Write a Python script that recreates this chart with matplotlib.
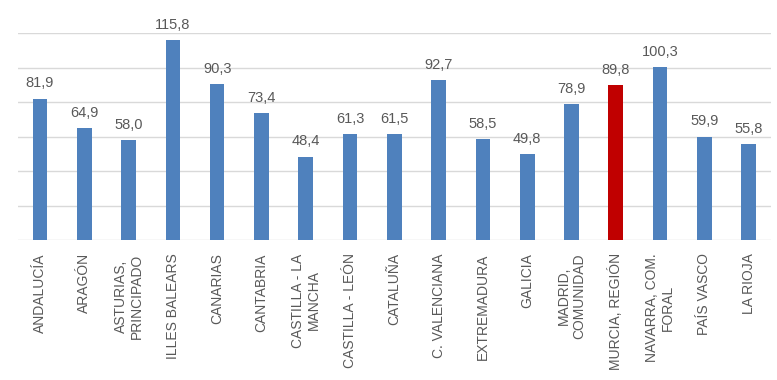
import matplotlib
matplotlib.use("Agg")
from matplotlib import pyplot as plt

regions = ["ANDALUCÍA", "ARAGÓN", "ASTURIAS,\nPRINCIPADO", "ILLES BALEARS",
           "CANARIAS", "CANTABRIA", "CASTILLA - LA\nMANCHA", "CASTILLA - LEÓN",
           "CATALUÑA", "C. VALENCIANA", "EXTREMADURA", "GALICIA",
           "MADRID,\nCOMUNIDAD", "MURCIA, REGIÓN", "NAVARRA, COM.\nFORAL",
           "PAÍS VASCO", "LA RIOJA"]
values = [81.9, 64.9, 58.0, 115.8, 90.3, 73.4, 48.4, 61.3, 61.5, 92.7,
          58.5, 49.8, 78.9, 89.8, 100.3, 59.9, 55.8]
highlight = "MURCIA, REGIÓN"

plt.rcParams['font.family'] = ['Liberation Sans', 'DejaVu Sans']

fig = plt.figure(figsize=(7.77, 3.8), dpi=100)
ax = fig.add_axes([0.023, 0.368, 0.969, 0.545])

x = range(len(values))
colors = ['#C00000' if r == highlight else '#4F81BD' for r in regions]
ax.bar(x, values, width=0.33, color=colors, zorder=3)

for xi, v in zip(x, values):
    ax.annotate(f"{v:.1f}".replace(".", ","), (xi, v), xytext=(0, 6),
                textcoords='offset points', ha='center', va='bottom',
                fontsize=10.5, color='#595959')

ax.set_xlim(-0.5, len(values) - 0.5)
ax.set_ylim(0, 120)
ax.set_yticks(range(0, 121, 20))
ax.yaxis.grid(True, color='#D9D9D9', linewidth=1, zorder=0)
ax.tick_params(axis='y', left=False, labelleft=False)
ax.tick_params(axis='x', bottom=False, pad=6)
ax.set_xticks(list(x))
ax.set_xticklabels(regions, rotation=90, fontsize=10, color='#595959',
                   ha='center', va='top', multialignment='center')
for s in ax.spines.values():
    s.set_visible(False)

fig.savefig("out.png", dpi=100)
